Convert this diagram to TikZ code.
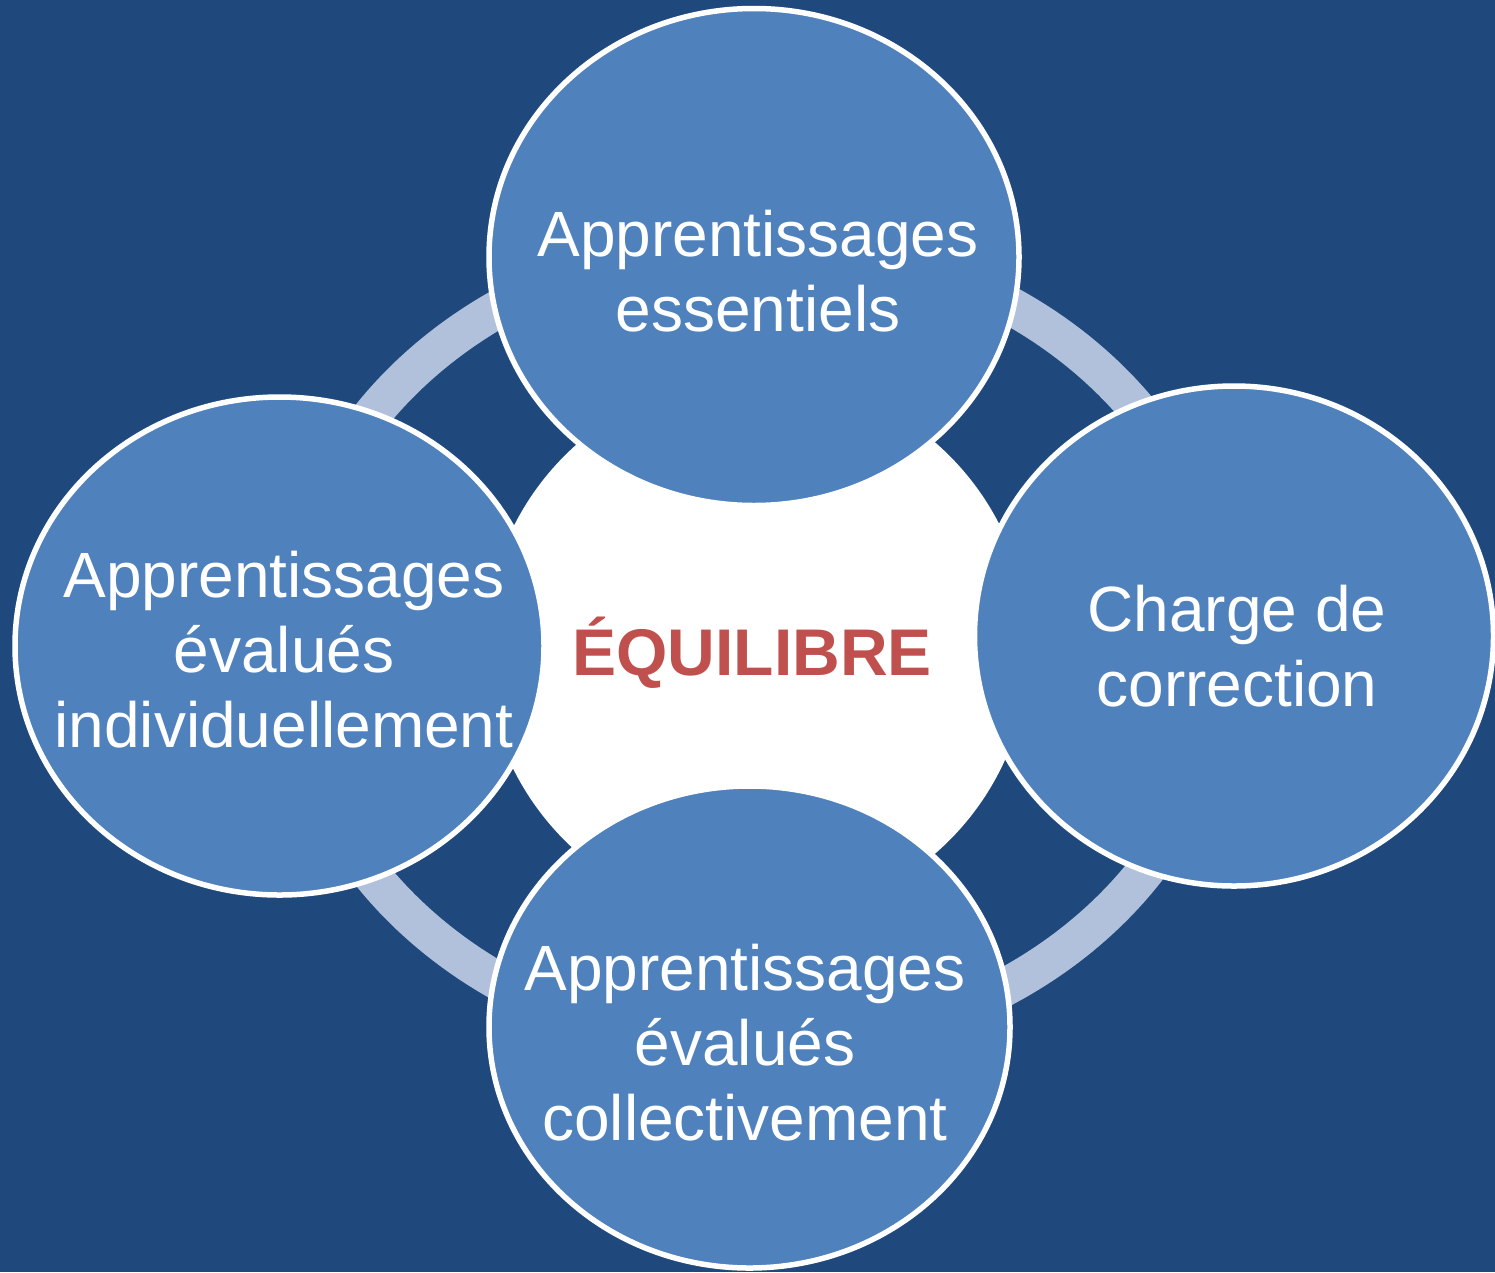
\documentclass[tikz,border=0pt]{standalone}
\usepackage{fontspec}
\setmainfont{Liberation Sans}
\usetikzlibrary{shapes.geometric}
\definecolor{bgblue}{HTML}{1F497D}
\definecolor{midblue}{HTML}{4F81BD}
\definecolor{ringblue}{HTML}{B2C1DB}
\definecolor{eqred}{HTML}{C0504D}
\begin{document}
\begin{tikzpicture}[x=1pt,y=-1pt,
  bubble/.style={ellipse, fill=midblue, draw=white, line width=5.5pt, inner sep=0pt},
  bubtext/.style={text=white, font=\fontsize{64}{75}\selectfont, align=center, inner sep=0pt}]
\fill[bgblue] (0,0) rectangle (1495,1272);
\useasboundingbox (0,0) rectangle (1495,1272);
% ring
\draw[ringblue, line width=38pt] (757,645) ellipse [x radius=469pt, y radius=403pt];
% centre
\node[circle, fill=white, minimum size=544pt, inner sep=0pt] (core) at (757,648) {};
% bubbles
\node[bubble, minimum width=530pt, minimum height=497pt] (top) at (754,257) {};
\node[bubble, minimum width=519pt, minimum height=500pt] (right) at (1234,636) {};
\node[bubble, minimum width=529pt, minimum height=498pt] (left) at (279.5,646) {};
\node[bubble, minimum width=521pt, minimum height=482pt] (bottom) at (749.5,1027) {};
% texts
\node[bubtext] (ttop) at (758,271.5) {Apprentissages\\essentiels};
\node[bubtext] (tright) at (1237,646) {Charge de\\correction};
\node[bubtext] (tleft) at (284,649.5) {Apprentissages\\évalués\\individuellement};
\node[bubtext] (tbottom) at (745,1043) {Apprentissages\\évalués\\collectivement};
\node[font=\bfseries\fontsize{66}{70}\selectfont, text=eqred, anchor=base, inner sep=0pt] (eq) at (752,675) {ÉQUILIBRE};
\end{tikzpicture}
\end{document}
